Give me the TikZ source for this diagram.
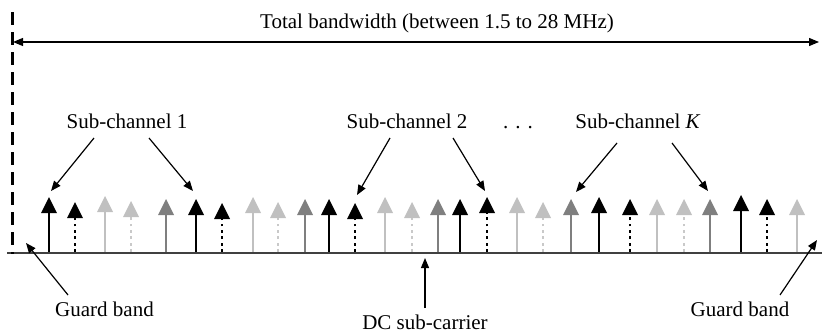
\documentclass[tikz,border=0pt]{standalone}
\usepackage{fontspec}
\setmainfont{Liberation Serif}
\usetikzlibrary{arrows.meta}
\definecolor{midgray}{HTML}{7F7F7F}
\definecolor{lightgray}{HTML}{C0C0C0}
\definecolor{axisgray}{HTML}{404040}
\tikzset{
  lbl/.style={font=\fontsize{21}{25}\selectfont, inner sep=0pt, anchor=base},
  annot/.style={line width=1.2pt, -{Triangle[length=10pt,width=8pt]}},
  stemB/.style={line width=2.6pt, black},
  stemBd/.style={line width=2.8pt, black, dash pattern=on 2.8pt off 3.6pt},
  stemL/.style={line width=2.6pt, lightgray},
  stemLd/.style={line width=2.8pt, lightgray!85, dash pattern=on 2.8pt off 3.6pt},
  stemM/.style={line width=2.6pt, midgray},
  headB/.style={fill=black},
  headBd/.style={fill=black},
  headL/.style={fill=lightgray},
  headLd/.style={fill=lightgray},
  headM/.style={fill=midgray},
}
\begin{document}
\begin{tikzpicture}[x=1pt,y=-1pt]
\useasboundingbox (0,0) rectangle (822,332);

% sub-carriers
\foreach \x/\t/\s in {49/197/B, 75/202/Bd, 105/196/L, 131/201/Ld, 166/199/M,
  196/199/B, 222/203/Bd, 253/197/L, 278/202/Ld, 305/199/M, 329/199/B,
  355/203/Bd, 385/197/L, 412/202/Ld, 438/199/M, 460/199/B, 487/197/Bd,
  517/197/L, 543/202/Ld, 571/199/M, 599/197/B, 630/199/Bd, 657/199/L,
  684/199/Ld, 710/199/M, 741/195/B, 767/199/Bd, 797/199/L}{
  \draw[stem\s] (\x,252) -- (\x,\t+15);
  \fill[head\s] (\x,\t) -- (\x-8,\t+16) -- (\x+8,\t+16) -- cycle;
}

% axis
\coordinate (axL) at (7,253);
\coordinate (axR) at (822,253);
\draw[axisgray, line width=2pt] (axL) -- (axR);

% guard line (dashed)
\coordinate (gTop) at (12,12);
\coordinate (gBot) at (12,254);
\draw[line width=3pt, dash pattern=on 13pt off 7pt] (gTop) -- (gBot);

% total bandwidth
\node[lbl] (title) at (437,28) {Total bandwidth (between 1.5 to 28 MHz)};
\coordinate (bwL) at (13,42);
\coordinate (bwR) at (819,42);
\draw[line width=1.2pt, {Triangle[length=10pt,width=8pt]}-{Triangle[length=10pt,width=8pt]}] (bwL) -- (bwR);

% sub-channel labels
\node[lbl] (sc1) at (127,128) {Sub-channel 1};
\node[lbl] (sc2) at (407,128) {Sub-channel 2};
\node[lbl] (dots) at (518,128) {. . .};
\node[lbl] (scK) at (638,128) {Sub-channel \textit{K}};

\coordinate (e1l) at (51,191);
\coordinate (e1r) at (193,191);
\coordinate (e2l) at (357,195);
\coordinate (e2r) at (485,191);
\coordinate (eKl) at (576,192);
\coordinate (eKr) at (708,191);

\draw[annot] ([shift={(-33,10)}]sc1.base) -- (e1l);
\draw[annot] ([shift={(22,10)}]sc1.base) -- (e1r);
\draw[annot] ([shift={(-17,10)}]sc2.base) -- (e2l);
\draw[annot] ([shift={(46,10)}]sc2.base) -- (e2r);
\draw[annot] ([shift={(-21,15)}]scK.base) -- (eKl);
\draw[annot] ([shift={(34,15)}]scK.base) -- (eKr);

% bottom labels
\node[lbl] (gbL) at (104.5,316) {Guard band};
\node[lbl] (dc) at (425,329) {DC sub-carrier};
\node[lbl] (gbR) at (740,316) {Guard band};

\coordinate (tgL) at (26,243);
\coordinate (tdc) at (425,258);
\coordinate (tgR) at (817,240);

\draw[annot] ([shift={(-36.5,-21)}]gbL.base) -- (tgL);
\draw[annot] ([shift={(0,-21)}]dc.base) -- (tdc);
\draw[annot] ([shift={(40,-21)}]gbR.base) -- (tgR);
\end{tikzpicture}
\end{document}
